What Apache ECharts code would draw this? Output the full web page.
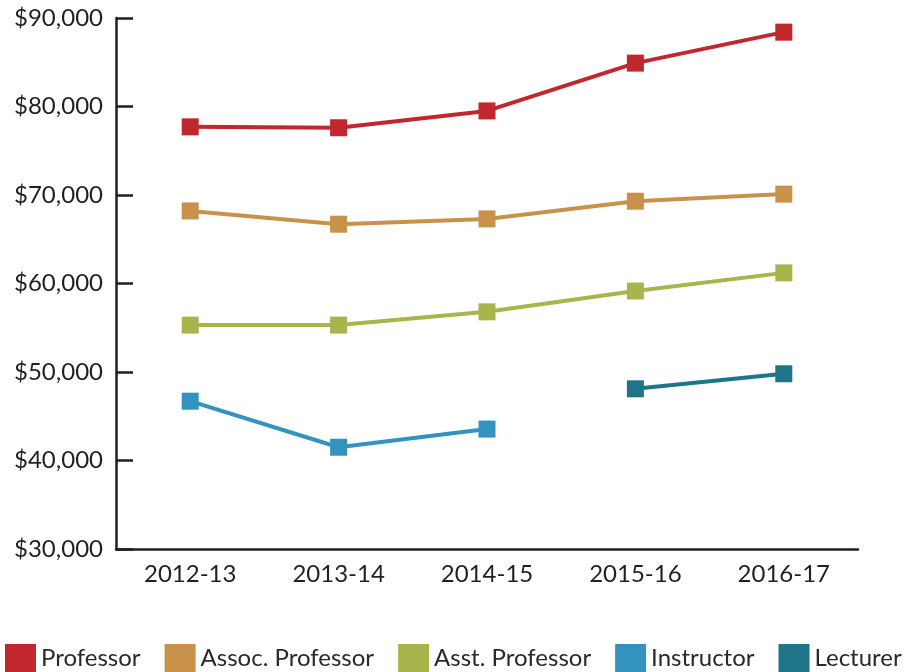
<!DOCTYPE html>
<html>
<head>
<meta charset="utf-8">
<script src="https://cdn.jsdelivr.net/npm/echarts@6/dist/echarts.min.js"></script>
<style>
html, body { margin: 0; padding: 0; background: #fff; }
#chart { width: 904px; height: 672px; }
</style>
</head>
<body>
<div id="chart"></div>
<script>
// 年度
var years = ["2012-13", "2013-14", "2014-15", "2015-16", "2016-17"];
// 各职称平均工资
var professor = [77700, 77600, 79500, 84900, 88400];
var assocProfessor = [68200, 66700, 67300, 69300, 70100];
var asstProfessor = [55300, 55300, 56800, 59150, 61200];
var instructor = [46700, 41500, 43550, null, null];
var lecturer = [null, null, null, 48100, 49800];

var myChart = echarts.init(document.getElementById('chart'));

function line(name, data, color) {
    return {
        name: name,
        type: "line",
        data: data,
        symbol: "rect",
        symbolSize: 17,
        connectNulls: false,
        lineStyle: { width: 4, color: color },
        itemStyle: { color: color },
        emphasis: { disabled: true }
    };
}

var option = {
    animation: false,
    textStyle: { fontFamily: "Lato" },
    grid: { left: 116, right: 46, top: 18, bottom: 123 },
    legend: {
        data: ["Professor", "Assoc. Professor", "Asst. Professor", "Instructor", "Lecturer"],
        left: 5,
        bottom: 0,
        width: 900,
        padding: 0,
        icon: "rect",
        itemWidth: 31,
        itemHeight: 28,
        itemGap: 24,
        textStyle: { fontSize: 24, color: "#2a2a2a", fontFamily: "Lato" }
    },
    xAxis: {
        type: "category",
        data: years,
        boundaryGap: true,
        axisLine: { lineStyle: { color: "#231f20", width: 2.5 } },
        axisTick: { inside: true, length: 12, lineStyle: { color: "#231f20", width: 2 } },
        axisLabel: { fontSize: 24, color: "#231f20", margin: 13 }
    },
    yAxis: {
        type: "value",
        min: 30000,
        max: 90000,
        interval: 10000,
        splitLine: { show: false },
        axisLine: { show: true, lineStyle: { color: "#231f20", width: 2.5 } },
        axisTick: { show: true, inside: true, length: 17, lineStyle: { color: "#231f20", width: 2.5 } },
        axisLabel: {
            fontSize: 24,
            color: "#231f20",
            margin: 13,
            formatter: function (v) { return "$" + v.toLocaleString("en-US"); }
        }
    },
    series: [
        line("Professor", professor, "#c1272d"),
        line("Assoc. Professor", assocProfessor, "#c9924a"),
        line("Asst. Professor", asstProfessor, "#a9b54c"),
        line("Instructor", instructor, "#3492be"),
        line("Lecturer", lecturer, "#1e758a")
    ]
};
myChart.setOption(option);
</script>
</body>
</html>
